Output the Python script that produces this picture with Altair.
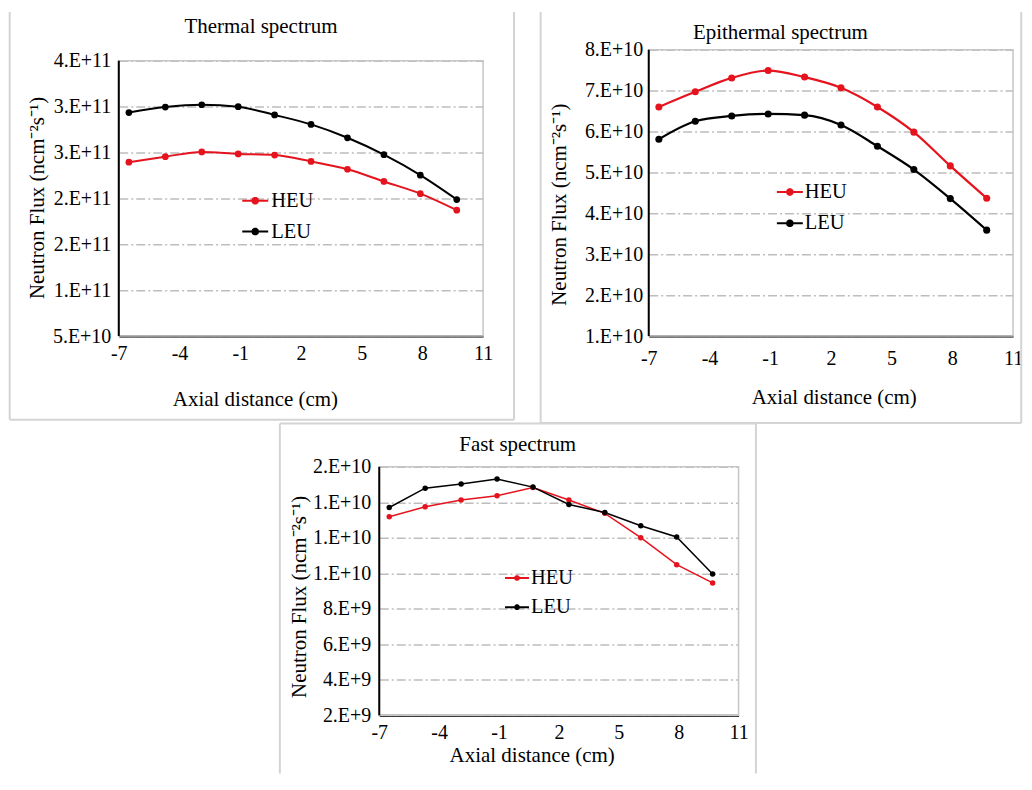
import math
import altair as alt
import pandas as pd

# ---------------- data ----------------
x_cm = [-6.5, -4.7, -2.9, -1.1, 0.7, 2.5, 4.3, 6.1, 7.9, 9.7]
series_names = ["HEU", "LEU"]
series_colors = ["#e5131d", "#000000"]

thermal_heu = [2.71e11, 2.78e11, 2.84e11, 2.815e11, 2.80e11, 2.72e11, 2.62e11, 2.465e11, 2.31e11, 2.10e11]
thermal_leu = [3.34e11, 3.41e11, 3.44e11, 3.415e11, 3.31e11, 3.19e11, 3.02e11, 2.805e11, 2.545e11, 2.235e11]

epi_heu = [6.60e10, 6.97e10, 7.31e10, 7.49e10, 7.33e10, 7.07e10, 6.60e10, 5.985e10, 5.16e10, 4.37e10]
epi_leu = [5.81e10, 6.25e10, 6.38e10, 6.43e10, 6.40e10, 6.16e10, 5.64e10, 5.07e10, 4.36e10, 3.59e10]

fast_heu = [1.319e10, 1.375e10, 1.413e10, 1.437e10, 1.484e10, 1.413e10, 1.338e10, 1.201e10, 1.049e10, 9.46e9]
fast_leu = [1.371e10, 1.480e10, 1.504e10, 1.531e10, 1.486e10, 1.388e10, 1.343e10, 1.268e10, 1.205e10, 9.96e9]

x_tick_values = [-7, -4, -1, 2, 5, 8, 11]
x_tick_labels = ["-7", "-4", "-1", "2", "5", "8", "11"]

thermal_tick_values = [5.0e10, 1.0833e11, 1.6667e11, 2.25e11, 2.8333e11, 3.4167e11, 4.0e11]
thermal_tick_labels = ["5.E+10", "1.E+11", "2.E+11", "2.E+11", "3.E+11", "3.E+11", "4.E+11"]

epi_tick_values = [1e10, 2e10, 3e10, 4e10, 5e10, 6e10, 7e10, 8e10]
epi_tick_labels = ["1.E+10", "2.E+10", "3.E+10", "4.E+10", "5.E+10", "6.E+10", "7.E+10", "8.E+10"]

fast_tick_values = [2e9, 4e9, 6e9, 8e9, 1.0e10, 1.2e10, 1.4e10, 1.6e10]
fast_tick_labels = ["2.E+9", "4.E+9", "6.E+9", "8.E+9", "1.E+10", "1.E+10", "1.E+10", "2.E+10"]

titles = ["Thermal spectrum", "Epithermal spectrum", "Fast spectrum"]
x_title = "Axial distance (cm)"
y_title = "Neutron Flux (ncm\u207b\u00b2s\u207b\u00b9)"

# ---------------- styling ----------------
SERIF = "Liberation Serif"
FRAME = "#d4d4d4"
BORDER = "#c6c6c6"
GRID = "#bdbdbd"
one_row = pd.DataFrame({"k": [0]})


def lookup_expr(values, labels):
    parts = [f"datum.value == {repr(float(v))} ? '{l}' : " for v, l in zip(values, labels)]
    return "".join(parts) + "''"


def dot_symbol(unit_px, radii_px):
    parts = ["M-1,0L1,0"]
    for r in radii_px:
        rr = r / unit_px
        pts = [(rr * math.cos(2 * math.pi * k / 10), rr * math.sin(2 * math.pi * k / 10)) for k in range(10)]
        parts.append("M" + "L".join(f"{a:.4f},{b:.4f}" for a, b in pts) + "Z")
    return "".join(parts)


def vrule(x, y1, y2):
    return alt.Chart(one_row).mark_rule(color=FRAME, strokeWidth=2).encode(
        x=alt.value(x), y=alt.value(y1), y2=alt.value(y2))


def hrule(x1, x2, y):
    return alt.Chart(one_row).mark_rule(color=FRAME, strokeWidth=2).encode(
        x=alt.value(x1), x2=alt.value(x2), y=alt.value(y))


def make_axes(p, yvals, ylabels):
    x_axis = alt.Axis(
        values=x_tick_values, labelExpr=lookup_expr(x_tick_values, x_tick_labels),
        grid=False, ticks=False, domain=True, domainColor="black", domainWidth=2,
        labelFont=SERIF, labelFontSize=20, labelColor="black", labelPadding=p["xlabpad"],
        labelFlush=False, labelOverlap=False,
        title=x_title, titleFont=SERIF, titleFontSize=21, titleFontWeight="normal",
        titleColor="black", titleX=p["xtx"], titleY=p["xty"], titleBaseline="middle",
        titleAlign="center")
    y_axis = alt.Axis(
        values=yvals, labelExpr=lookup_expr(yvals, ylabels),
        grid=True, gridColor=GRID, gridDash=[9, 3, 2, 3], gridWidth=1.5,
        ticks=False, domain=False,
        labelFont=SERIF, labelFontSize=20, labelColor="black", labelPadding=p["ylabpad"],
        labelOverlap=False,
        title=y_title, titleFont=SERIF, titleFontSize=21, titleFontWeight="normal",
        titleColor="black", titleX=p["ytx"], titleY=p["yty"], titleBaseline="middle",
        titleAlign="center", titleAngle=270)
    return x_axis, y_axis


def panel(title, heu, leu, yvals, ylabels, ydomain, ybox, p):
    df = pd.DataFrame({
        "x": x_cm + x_cm,
        "flux": heu + leu,
        "series": [series_names[0]] * len(heu) + [series_names[1]] * len(leu),
    })
    xs = alt.Scale(domain=[-7, 11], nice=False, zero=False)
    ys = alt.Scale(domain=ydomain, nice=False, zero=False)
    cs = alt.Scale(domain=series_names, range=series_colors)
    x_axis, y_axis = make_axes(p, yvals, ylabels)

    unit = p["sym"] / 2.0
    legend = alt.Legend(
        orient="none", legendX=p["lx"], legendY=p["ly"], title=None,
        symbolType=dot_symbol(unit, p["dotr"]), symbolSize=p["sym"] ** 2,
        symbolStrokeWidth=2, labelFont=SERIF, labelFontSize=20.5, labelColor="black",
        labelOffset=p["loff"], rowPadding=p["rowpad"], padding=0)

    lines = alt.Chart(df).mark_line(strokeWidth=p["lw"], interpolate=p["interp"]).encode(
        x=alt.X("x:Q", scale=xs, axis=x_axis),
        y=alt.Y("flux:Q", scale=ys, axis=y_axis),
        color=alt.Color("series:N", scale=cs, legend=legend),
    )
    border = alt.Chart(one_row).mark_rect(fillOpacity=0, stroke=BORDER, strokeWidth=1.5).encode(
        x=alt.XDatum(-7, scale=xs, axis=x_axis), x2=alt.datum(11),
        y=alt.YDatum(ybox[0], scale=ys, axis=y_axis), y2=alt.datum(ybox[1]))
    points = alt.Chart(df).mark_circle(size=p["ps"], opacity=1).encode(
        x=alt.X("x:Q", scale=xs, axis=x_axis),
        y=alt.Y("flux:Q", scale=ys, axis=y_axis),
        color=alt.Color("series:N", scale=cs, legend=None),
    )
    left_axis = alt.Chart(one_row).mark_rule(color="black", strokeWidth=2).encode(
        x=alt.XDatum(-7, scale=xs, axis=x_axis),
        y=alt.YDatum(ybox[0], scale=ys, axis=y_axis), y2=alt.datum(ybox[1]))

    head = alt.Chart(one_row).mark_text(
        text=title, font=SERIF, fontSize=21, color="black", align="center",
        baseline="alphabetic").encode(x=alt.value(p["tx"]), y=alt.value(p["ty"]))

    fl, fr, ft, fb = p["frame"]
    frames = [vrule(fl, ft, fb), vrule(fr, ft, fb)]
    if p["frame_bottom"]:
        frames.append(hrule(fl, fr, fb))
    if p["frame_top"]:
        frames.append(hrule(fl, fr, ft))

    return alt.layer(lines, border, points, left_axis, *frames, head).properties(
        width=p["w"], height=p["h"])


thermal = panel(
    titles[0], thermal_heu, thermal_leu, thermal_tick_values, thermal_tick_labels,
    [5.0e10, 4.13949e11], [5.0e10, 4.0e11],
    dict(w=365, h=287, xlabpad=7, ylabpad=8, xtx=136.4, xty=64, ytx=-81.6, yty=148.1,
         lx=122.7, ly=137.3, sym=26, dotr=[0.8, 2.0, 2.9], loff=2, rowpad=6,
         lw=2, ps=45, interp="monotone", tx=142.5, ty=-17,
         frame=(-109.3, 396, -37.7, 370.8), frame_bottom=True, frame_top=False))

epi = panel(
    titles[1], epi_heu, epi_leu, epi_tick_values, epi_tick_labels,
    [1e10, 8e10], [1e10, 8e10],
    dict(w=365, h=287, xlabpad=12, ylabpad=6, xtx=185.3, xty=61.7, ytx=-89, yty=154.8,
         lx=127.4, ly=128.6, sym=26, dotr=[0.8, 2.0, 2.9], loff=1, rowpad=6.4,
         lw=2.2, ps=50, interp="monotone", tx=131.9, ty=-10.4,
         frame=(-108.3, 373.2, -37.7, 374), frame_bottom=True, frame_top=False))

fast = panel(
    titles[2], fast_heu, fast_leu, fast_tick_values, fast_tick_labels,
    [2e9, 1.6e10], [2e9, 1.6e10],
    dict(w=360, h=249, xlabpad=7, ylabpad=8.5, xtx=152.7, xty=40.6, ytx=-80.3, yty=129.8,
         lx=125, ly=98.3, sym=24, dotr=[0.7, 1.9], loff=1, rowpad=5.3,
         lw=1.5, ps=30, interp="linear", tx=138.7, ty=-16,
         frame=(-99.6, 377.4, -43.4, 307.3), frame_bottom=False, frame_top=True))

spacer = alt.Chart(one_row).mark_rule(color="white", strokeWidth=1).encode(
    x=alt.value(0), x2=alt.value(20), y=alt.value(0)).properties(width=20, height=1)

row1 = alt.hconcat(thermal, epi, spacing=23).resolve_scale(color="independent").resolve_legend(color="independent")
row2 = alt.hconcat(spacer, fast, spacing=138).resolve_scale(color="independent").resolve_legend(color="independent")

chart = alt.vconcat(row1, row2, spacing=-3).resolve_scale(
    color="independent").resolve_legend(color="independent").properties(
    padding={"left": 0, "top": 1, "right": 0, "bottom": 0},
    background="white",
).configure_view(stroke="transparent")

chart.save("out.html", embed_options={"renderer": "svg", "actions": False})
